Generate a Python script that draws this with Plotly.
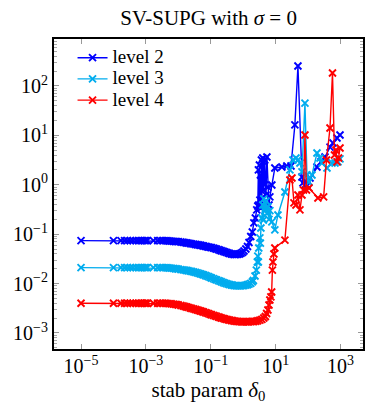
"""SV-SUPG error against stabilisation parameter, three refinement levels"""
import plotly.graph_objects as go

# shared sweep of the stabilisation parameter (smooth part of the curves)
delta0_sweep = [
    1e-5, 1e-4, 1.7e-4, 2.2e-4, 2.7e-4, 3.3e-4, 4e-4, 5e-4, 6e-4, 7e-4, 8e-4, 9e-4, 1e-3, 1.1e-3,
    1.7e-3, 2.3e-3, 2.8e-3, 3.3e-3, 3.9e-3, 4.5e-3, 5.2e-3, 6e-3, 7e-3, 8e-3, 9e-3, 0.01,
    0.012, 0.014, 0.016, 0.018, 0.02, 0.023, 0.026, 0.03, 0.034, 0.038, 0.043, 0.048, 0.054,
    0.06, 0.068, 0.076, 0.085, 0.095,
    0.105, 0.12, 0.135, 0.15, 0.17, 0.19, 0.21, 0.24, 0.27, 0.3, 0.34, 0.38, 0.43, 0.48, 0.54,
    0.6, 0.68, 0.76, 0.85, 0.95,
    1.05, 1.2, 1.35, 1.5, 1.7, 1.9,
]

level2_err = [
    0.074, 0.074, 0.074, 0.074, 0.074, 0.074, 0.074, 0.074, 0.074, 0.074,
    0.074, 0.074, 0.074, 0.074, 0.074, 0.074, 0.074, 0.074, 0.074,
    0.0735, 0.0728, 0.0725, 0.0718, 0.0711, 0.0708, 0.0705,
    0.0695, 0.0686, 0.0676, 0.0664, 0.0658, 0.0648, 0.0639, 0.0627, 0.0619, 0.0610,
    0.0605, 0.0596, 0.0588, 0.0577, 0.0566, 0.0556, 0.0548, 0.0541, 0.0533, 0.0523,
    0.0511, 0.0499, 0.0486, 0.0474, 0.0463, 0.0451, 0.0438, 0.0428, 0.0416, 0.0407,
    0.0397, 0.0392, 0.0388, 0.0388, 0.0392, 0.0397, 0.0411, 0.0430, 0.0457, 0.0502,
    0.0564, 0.0679, 0.0898, 0.1108,
]
level3_err = [
    0.021, 0.021, 0.021, 0.021, 0.021, 0.021, 0.021, 0.021, 0.021, 0.021,
    0.021, 0.021, 0.021, 0.021, 0.021, 0.021, 0.021, 0.021, 0.021,
    0.0209, 0.0207, 0.0205, 0.0203, 0.0200, 0.0198, 0.0196,
    0.0192, 0.0189, 0.0187, 0.0184, 0.0182, 0.0179, 0.0176, 0.0172, 0.0169, 0.0165,
    0.0161, 0.0157, 0.0154, 0.0150, 0.0146, 0.0142, 0.0138, 0.0134, 0.0130, 0.0126,
    0.0122, 0.0119, 0.0115, 0.0112, 0.0109, 0.0105, 0.0102, 0.0100, 0.00977, 0.00954,
    0.00937, 0.00924, 0.00911, 0.00903, 0.00898, 0.00898, 0.00903, 0.00907, 0.00915,
    0.00928, 0.00946, 0.00973, 0.0101, 0.0108,
]
level4_err = [
    0.0040, 0.0040, 0.0040, 0.0040, 0.0040, 0.0040, 0.0040, 0.0040, 0.0040, 0.0040,
    0.0040, 0.0040, 0.0040, 0.0040, 0.0040, 0.0040, 0.0040, 0.0040, 0.0040,
    0.00397, 0.00394, 0.00390, 0.00385, 0.00379, 0.00374, 0.00369,
    0.00360, 0.00352, 0.00344, 0.00336, 0.00330, 0.00321, 0.00313, 0.00306, 0.00299,
    0.00292, 0.00285, 0.00279, 0.00272, 0.00266, 0.00259, 0.00252, 0.00246, 0.00239,
    0.00234, 0.00227, 0.00222, 0.00217, 0.00211, 0.00206, 0.00201, 0.00197, 0.00192,
    0.00188, 0.00185, 0.00182, 0.00179, 0.00177, 0.00174, 0.00172, 0.00171, 0.00170,
    0.00169, 0.00169, 0.00169, 0.00169, 0.00169, 0.00169, 0.00170, 0.00171,
]

# erratic part of each curve for large delta0
level2_tail_delta0 = [
    2.12, 2.36, 2.6, 2.8, 2.92, 3.0, 3.14, 3.25, 3.37, 3.5, 3.62, 3.75, 4.0, 4.17, 4.3,
    4.48, 4.6, 5.0, 5.35, 5.75, 6.2, 6.6, 7.6, 9.4, 15.5, 22, 29.5, 39, 48.4, 64.4,
    69, 79.6, 85.5, 91.8, 114, 187, 248, 330, 471, 582, 774, 958,
]
level2_tail_err = [
    0.169, 0.213, 0.31, 0.372, 2.0, 0.39, 2.52, 0.49, 1.58, 0.339, 3.18, 0.54, 3.49, 0.785, 2.9,
    0.99, 3.18, 0.62, 3.65, 0.90, 0.39, 0.57, 0.99, 2.19, 2.29, 2.4, 2.4, 16.3, 254, 1.44,
    1.09, 0.99, 1.19, 0.99, 1.37, 2.29, 2.9, 3.65, 5.8, 7.0, 8.85, 10.2,
]
level3_tail_delta0 = [
    2.05, 2.3, 2.53, 2.72, 2.8, 2.92, 3.0, 3.25, 3.37, 3.5, 3.75, 4.0, 4.17, 4.3,
    4.6, 5.0, 5.35, 5.75, 6.2, 6.6, 7.6, 9.4, 11.7, 19.2, 27.4, 34, 42, 48.4, 55.8, 64.4,
    79.6, 91.8, 106, 131, 187, 231, 267, 380, 543, 671, 832, 958,
]
level3_tail_err = [
    0.01155, 0.01425, 0.0188, 0.0274, 0.036, 0.0274, 0.0526, 0.084, 0.066, 0.1336, 0.213, 0.39,
    0.194, 0.52, 0.3, 0.47, 0.26, 0.36, 0.2, 0.3, 0.177, 0.122, 0.245, 0.715, 2.0, 3.18, 3.49,
    3.18, 2.76, 1.82, 45, 1.58, 1.14, 1.58, 4.4, 3.49, 2.76, 2.19, 2.76, 2.76, 2.9, 3.35,
]
level4_tail_delta0 = [
    2.12, 2.45, 2.8, 3.25, 3.75, 4.3, 4.8, 5.24, 5.75, 6.2, 6.6, 7.1, 7.5, 7.9, 8.2, 8.8, 9.4,
    19.2, 27.4, 31.6, 36.5, 42, 48.4, 55.8, 64.4, 71.6, 79.6, 88.7, 106, 200, 300, 367, 471,
    562, 648, 720, 774, 862, 958,
]
level4_tail_err = [
    0.00171, 0.00173, 0.00177, 0.00182, 0.00189, 0.00201, 0.00216, 0.00248, 0.00292, 0.00369,
    0.00466, 0.0054, 0.00676, 0.0188, 0.0274, 0.0397, 0.0526, 0.076, 1.25, 1.37, 0.43, 0.39,
    0.62, 0.31, 0.62, 0.785, 10.2, 0.785, 0.861, 0.54, 0.57, 3.18, 14.1, 183, 4.0, 5.06, 2.9,
    3.49, 5.56,
]

x_tickvals = [1e-5, 1e-3, 1e-1, 1e1, 1e3]
x_ticktext = ["10<sup>−5</sup>", "10<sup>−3</sup>", "10<sup>−1</sup>", "10<sup>1</sup>", "10<sup>3</sup>"]
y_tickvals = [1e-3, 1e-2, 1e-1, 1e0, 1e1, 1e2]
y_ticktext = ["10<sup>−3</sup>", "10<sup>−2</sup>", "10<sup>−1</sup>", "10<sup>0</sup>",
              "10<sup>1</sup>", "10<sup>2</sup>"]

SERIF = "Liberation Serif, Times New Roman, serif"

series = [
    ("level 2", "#0000ff", level2_err, level2_tail_delta0, level2_tail_err),
    ("level 3", "rgb(0,172,238)", level3_err, level3_tail_delta0, level3_tail_err),
    ("level 4", "#ff0000", level4_err, level4_tail_delta0, level4_tail_err),
]

fig = go.Figure()
for name, color, err, tail_x, tail_y in series:
    fig.add_trace(
        go.Scatter(
            x=delta0_sweep + tail_x,
            y=err + tail_y,
            mode="lines+markers",
            # legend rows are spaced by the (small) legend font, text drawn larger
            name=f'<span style="font-size:19px">{name}</span>',
            line=dict(color=color, width=1.4),
            marker=dict(symbol="x-thin", size=7, line=dict(color=color, width=1.9)),
        )
    )

minor_y = [k * 10.0 ** e for e in range(-4, 3) for k in range(2, 10)]

axis_common = dict(
    showline=True, linewidth=2, linecolor="black", mirror="allticks",
    ticks="inside", ticklen=5, tickwidth=1, tickcolor="#999999",
    showgrid=False, zeroline=False, automargin=False,
    tickfont=dict(family=SERIF, size=20, color="black"),
)

fig.update_xaxes(
    type="log", range=[-5.833, 3.69],
    tickmode="array", tickvals=x_tickvals, ticktext=x_ticktext,
    ticklabelstandoff=-2,
    title=dict(text="stab param <i>δ</i><sub>0</sub>", standoff=6,
               font=dict(family=SERIF, size=21, color="black")),
    **axis_common,
)
fig.update_yaxes(
    type="log", range=[-3.324, 2.951],
    tickmode="array", tickvals=y_tickvals, ticktext=y_ticktext,
    minor=dict(tickmode="array", tickvals=minor_y, ticks="inside", ticklen=3,
               tickcolor="#aaaaaa", tickwidth=1, showgrid=False),
    **axis_common,
)

fig.update_layout(
    width=366, height=411,
    margin=dict(l=54, r=3, t=39, b=62),
    paper_bgcolor="white", plot_bgcolor="white",
    title=dict(text="SV-SUPG with <i>σ</i> = 0", x=0.57, xanchor="center",
               y=0.956, yanchor="middle", yref="container",
               font=dict(family=SERIF, size=21, color="black")),
    legend=dict(x=0.06, y=0.99, xanchor="left", yanchor="top",
                bgcolor="rgba(0,0,0,0)", font=dict(family=SERIF, size=14, color="black"),
                tracegroupgap=0, itemwidth=30),
    showlegend=True,
)

# the page's default body margin would push the 366x411 figure out of the window
fig.write_html(
    "out.html",
    config={"displayModeBar": False},
    post_script="document.body.style.margin = '0px';",
)
